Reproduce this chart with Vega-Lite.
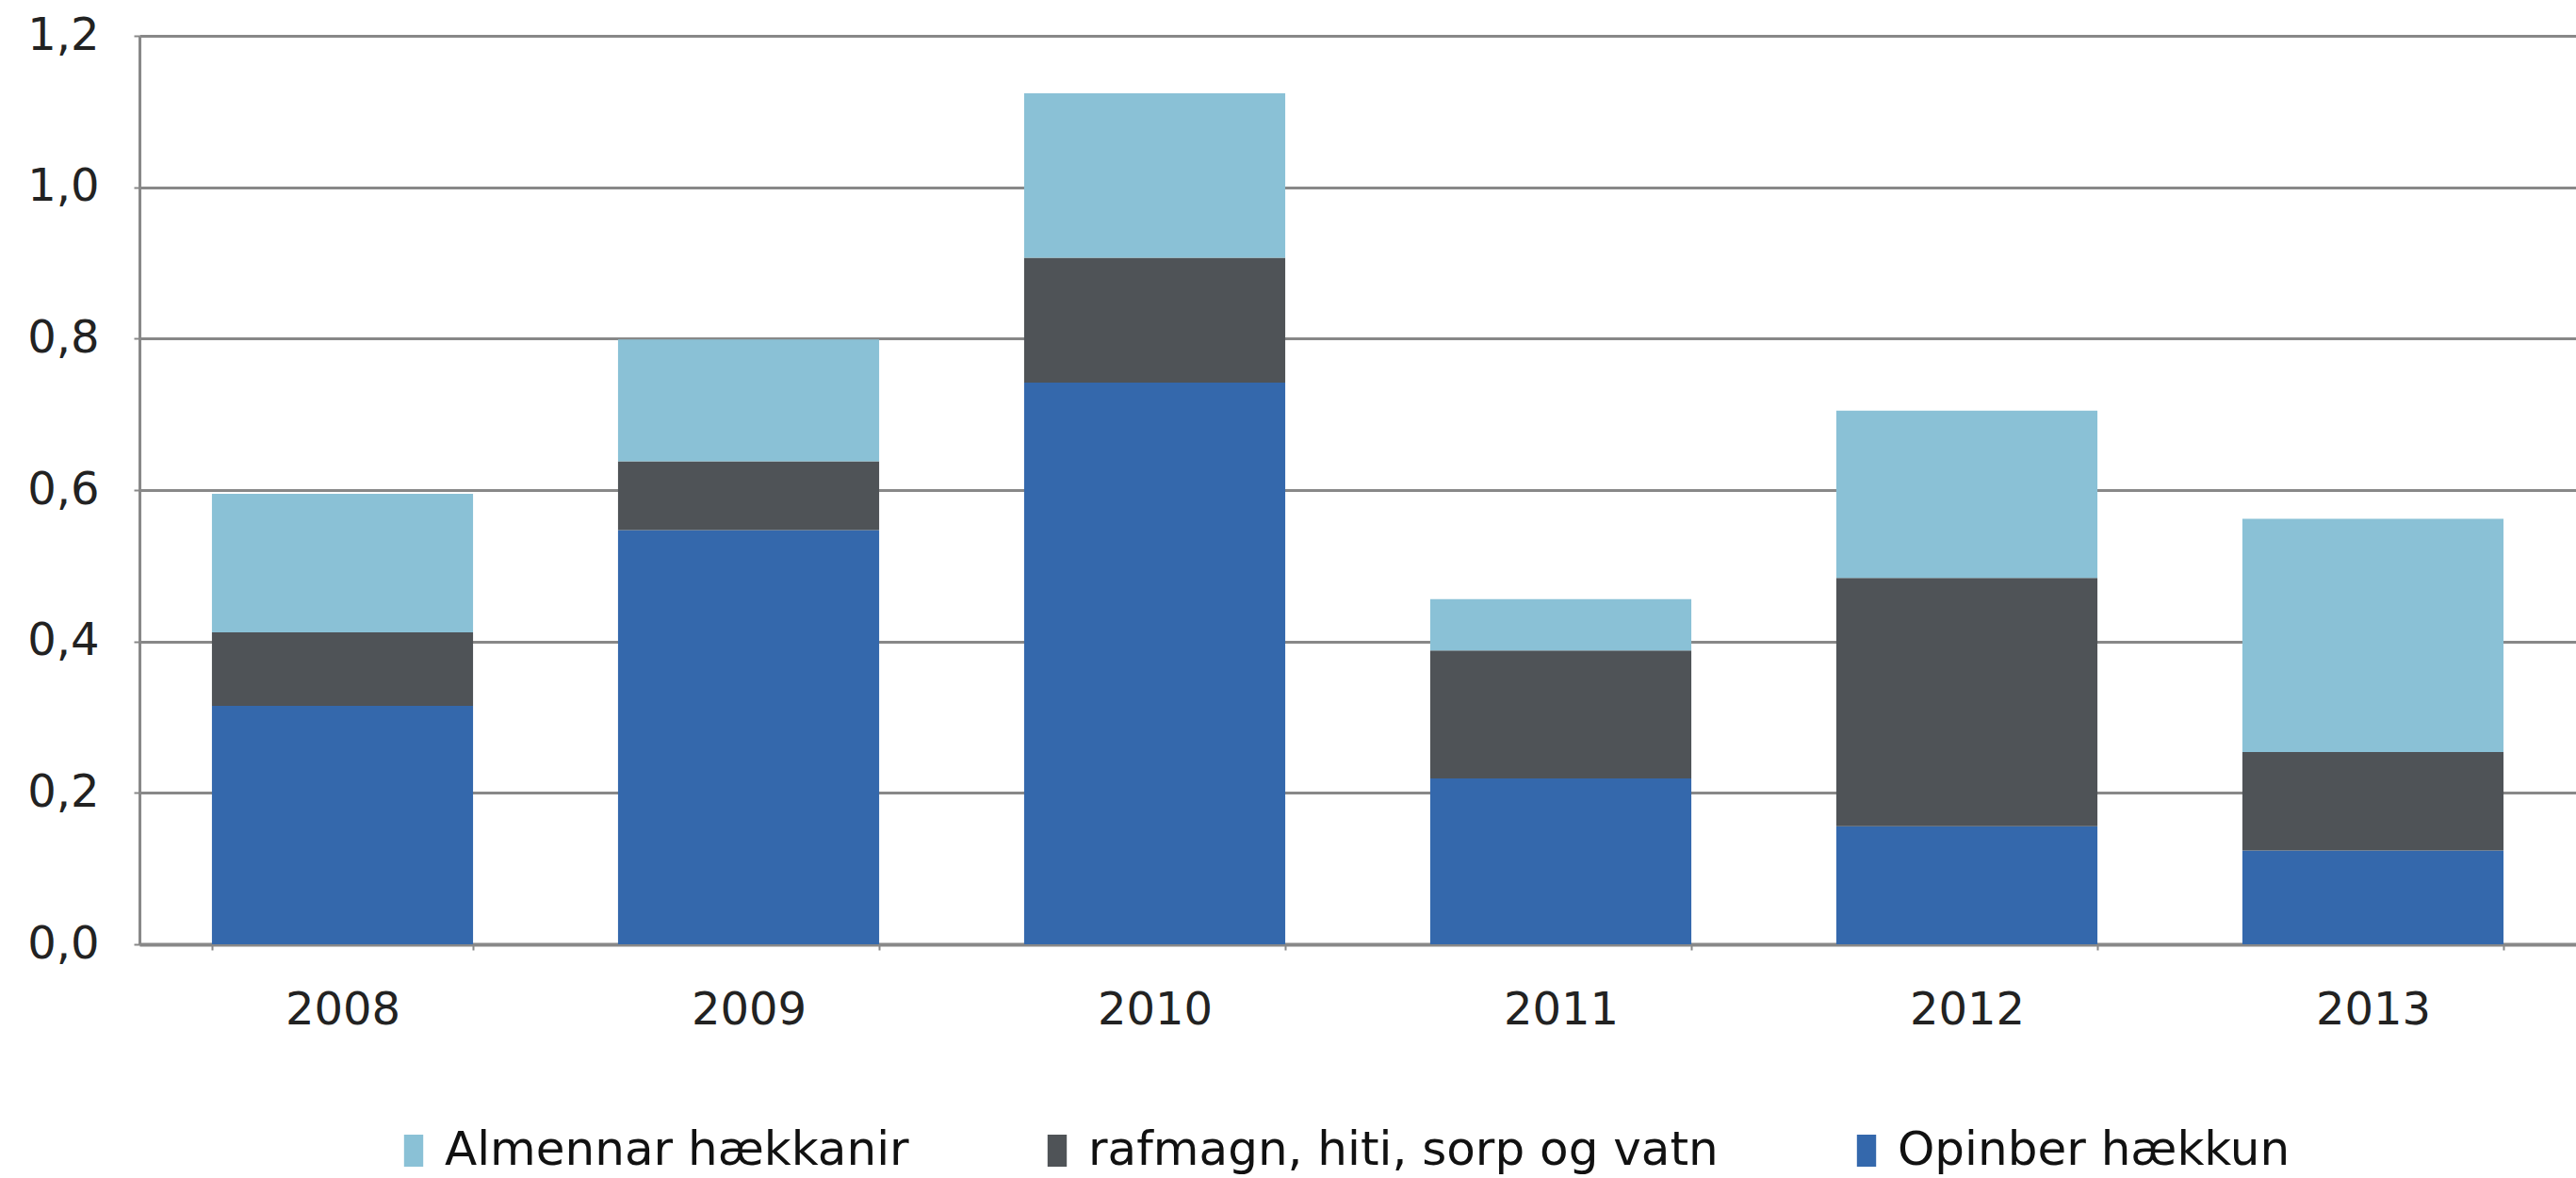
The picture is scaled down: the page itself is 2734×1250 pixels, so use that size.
{
  "$schema": "https://vega.github.io/schema/vega-lite/v6.json",
  "width": 2586,
  "height": 964,
  "autosize": "none",
  "padding": {"left": 148, "top": 38, "right": 0, "bottom": 248},
  "background": "white",
  "config": {
    "view": {"stroke": null},
    "font": "DejaVu Sans"
  },
  "data": {
    "values": [
      {"year": "2008", "series": "Opinber hækkun", "value": 0.315},
      {"year": "2008", "series": "rafmagn, hiti, sorp og vatn", "value": 0.097},
      {"year": "2008", "series": "Almennar hækkanir", "value": 0.183},
      {"year": "2009", "series": "Opinber hækkun", "value": 0.547},
      {"year": "2009", "series": "rafmagn, hiti, sorp og vatn", "value": 0.091},
      {"year": "2009", "series": "Almennar hækkanir", "value": 0.161},
      {"year": "2010", "series": "Opinber hækkun", "value": 0.742},
      {"year": "2010", "series": "rafmagn, hiti, sorp og vatn", "value": 0.165},
      {"year": "2010", "series": "Almennar hækkanir", "value": 0.217},
      {"year": "2011", "series": "Opinber hækkun", "value": 0.219},
      {"year": "2011", "series": "rafmagn, hiti, sorp og vatn", "value": 0.169},
      {"year": "2011", "series": "Almennar hækkanir", "value": 0.068},
      {"year": "2012", "series": "Opinber hækkun", "value": 0.156},
      {"year": "2012", "series": "rafmagn, hiti, sorp og vatn", "value": 0.328},
      {"year": "2012", "series": "Almennar hækkanir", "value": 0.221},
      {"year": "2013", "series": "Opinber hækkun", "value": 0.124},
      {"year": "2013", "series": "rafmagn, hiti, sorp og vatn", "value": 0.130},
      {"year": "2013", "series": "Almennar hækkanir", "value": 0.308}
    ]
  },
  "transform": [
    {"calculate": "indexof(['Opinber hækkun', 'rafmagn, hiti, sorp og vatn', 'Almennar hækkanir'], datum.series)", "as": "stackOrder"}
  ],
  "mark": {"type": "bar"},
  "encoding": {
    "x": {
      "field": "year",
      "type": "nominal",
      "scale": {"paddingInner": 0.357, "paddingOuter": 0.1785},
      "axis": {
        "title": null,
        "labelAngle": 0,
        "labelFont": "DejaVu Sans",
        "labelFontSize": 48,
        "labelColor": "#222222",
        "labelPadding": 40,
        "tickBand": "extent",
        "tickSize": 6,
        "tickColor": "#888888",
        "tickWidth": 2,
        "domainColor": "#888888",
        "domainWidth": 4
      }
    },
    "y": {
      "field": "value",
      "type": "quantitative",
      "stack": "zero",
      "scale": {"domain": [0, 1.2]},
      "axis": {
        "title": null,
        "values": [0, 0.2, 0.4, 0.6, 0.8, 1.0, 1.2],
        "format": ".1f",
        "labelExpr": "replace(datum.label, '.', ',')",
        "labelFont": "DejaVu Sans",
        "labelFontSize": 48,
        "labelColor": "#222222",
        "labelPadding": 37,
        "tickSize": 6,
        "tickColor": "#888888",
        "tickWidth": 2,
        "domainColor": "#888888",
        "domainWidth": 3,
        "grid": true,
        "gridColor": "#888888",
        "gridWidth": 3,
        "gridOpacity": 1
      }
    },
    "color": {
      "field": "series",
      "type": "nominal",
      "scale": {
        "domain": ["Almennar hækkanir", "rafmagn, hiti, sorp og vatn", "Opinber hækkun"],
        "range": ["#8AC1D6", "#4F5357", "#3468AC"]
      },
      "legend": {
        "title": null,
        "orient": "none",
        "direction": "horizontal",
        "legendX": 266,
        "legendY": 1158,
        "padding": 0,
        "columnPadding": 132,
        "symbolType": "M-0.6,-1H0.6V1H-0.6Z",
        "symbolSize": 1156,
        "symbolStrokeWidth": 0,
        "labelOffset": 8,
        "labelFont": "DejaVu Sans",
        "labelFontSize": 50,
        "labelColor": "#111111",
        "labelLimit": 1000
      }
    },
    "order": {"field": "stackOrder", "type": "quantitative", "sort": "ascending"}
  }
}
